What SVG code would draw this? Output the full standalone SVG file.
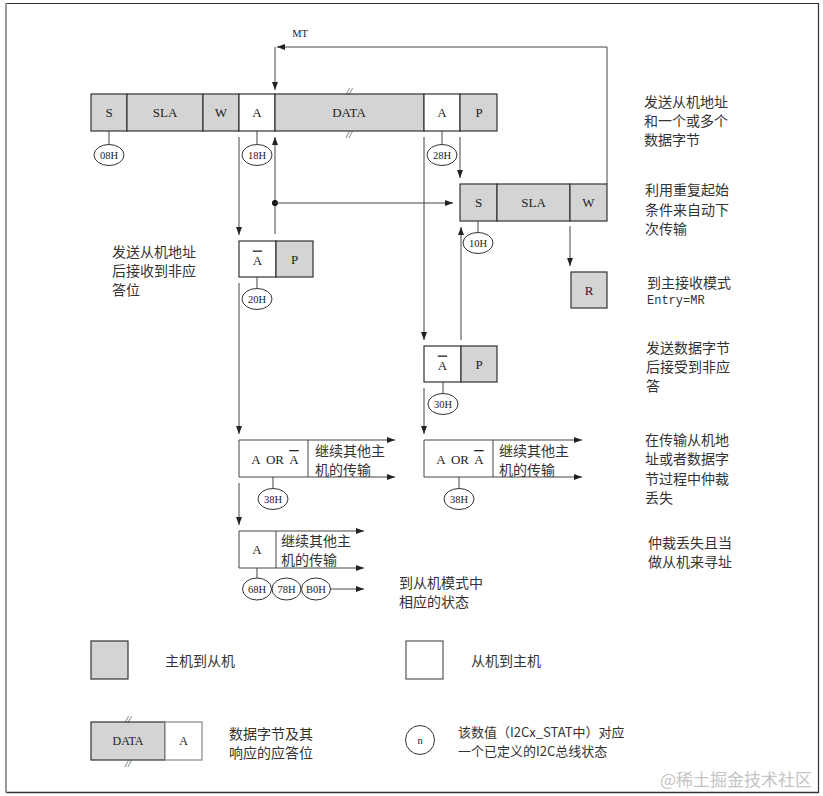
<svg xmlns="http://www.w3.org/2000/svg" width="823" height="796" viewBox="0 0 823 796">
<defs>
<marker id="ah" markerWidth="8" markerHeight="6" refX="8" refY="3" orient="auto" markerUnits="userSpaceOnUse"><path d="M0,0 L8,3 L0,6 z" fill="#222"/></marker>
</defs>
<style>
.g{fill:#d4d4d4;stroke:#333;stroke-width:1.2}
.w{fill:#fff;stroke:#333;stroke-width:1.2}
.t{font-family:"Liberation Serif",serif;font-size:13px;fill:#222;text-anchor:middle;dominant-baseline:central}
.s{font-family:"Liberation Serif",serif;font-size:10.5px;fill:#222;text-anchor:middle;dominant-baseline:central}
.sl{font-family:"Liberation Serif",serif;font-size:11px;fill:#333;text-anchor:middle;dominant-baseline:central;font-style:italic}
.cn{font-family:"Noto Sans CJK SC",sans-serif;font-size:14px;fill:#333;dominant-baseline:central}
.ov{text-decoration:overline}
.st{fill:#fff;stroke:#333;stroke-width:1}
.ln{stroke:#444;stroke-width:1;fill:none}
.ar{stroke:#444;stroke-width:1;fill:none;marker-end:url(#ah)}
</style>
<rect width="823" height="796" fill="#fff"/>
<g id="border">
<line x1="6" y1="3.5" x2="818" y2="3.5" stroke="#333" stroke-width="1.2"/>
<line x1="818.5" y1="3" x2="818.5" y2="793" stroke="#333" stroke-width="1.2"/>
<line x1="6" y1="792.5" x2="818" y2="792.5" stroke="#333" stroke-width="1.5"/>
<line x1="6" y1="3" x2="6" y2="793" stroke="#999" stroke-width="2"/>
</g>

<g id="connectors">
<path class="ar" d="M607,184 V47 H277"/>
<line class="ar" x1="275" y1="47" x2="275" y2="90"/>
<line class="ar" x1="239" y1="137" x2="239" y2="235"/>
<line class="ar" x1="275" y1="234" x2="275" y2="137"/>
<circle cx="275" cy="203" r="3" fill="#111"/>
<line class="ar" x1="275" y1="203" x2="453" y2="203"/>
<line class="ar" x1="460" y1="137" x2="460" y2="178"/>
<line class="ar" x1="424" y1="137" x2="424" y2="340"/>
<line class="ar" x1="461" y1="340" x2="461" y2="227"/>
<line class="ar" x1="570" y1="226" x2="570" y2="266"/>
<line class="ar" x1="239" y1="283" x2="239" y2="434"/>
<line class="ar" x1="424" y1="388" x2="424" y2="434"/>
<line class="ar" x1="239" y1="483" x2="239" y2="525"/>
<line class="ar" x1="331" y1="589" x2="364" y2="589"/>
</g>

<g id="label-mt"><text class="s" x="300" y="33">MT</text></g>

<g id="frame-top">
<rect class="g" x="91" y="94" width="36" height="37"/>
<rect class="g" x="127" y="94" width="76" height="37"/>
<rect class="g" x="203" y="94" width="36" height="37"/>
<rect class="w" x="239" y="94" width="36" height="37"/>
<rect class="g" x="275" y="94" width="149" height="37"/>
<rect class="w" x="424" y="94" width="36" height="37"/>
<rect class="g" x="460" y="94" width="37" height="37"/>
<text class="t" x="109" y="112.5">S</text>
<text class="t" x="165" y="112.5">SLA</text>
<text class="t" x="221" y="112.5">W</text>
<text class="t" x="257" y="112.5">A</text>
<text class="t" x="349" y="112.5">DATA</text>
<text class="t" x="442" y="112.5">A</text>
<text class="t" x="479" y="112.5">P</text>
<text class="sl" x="349" y="91">//</text>
<text class="sl" x="349" y="134">//</text>
</g>
<g id="state-08h"><line class="ln" x1="109" y1="131" x2="109" y2="144.5"/><ellipse class="st" cx="109" cy="155" rx="15" ry="10.5"/><text class="s" x="109" y="155">08H</text></g>
<g id="state-18h"><line class="ln" x1="257" y1="131" x2="257" y2="144.5"/><ellipse class="st" cx="257" cy="155" rx="15" ry="10.5"/><text class="s" x="257" y="155">18H</text></g>
<g id="state-28h"><line class="ln" x1="442" y1="131" x2="442" y2="144.5"/><ellipse class="st" cx="442" cy="155" rx="15" ry="10.5"/><text class="s" x="442" y="155">28H</text></g>

<g id="frame-restart">
<rect class="g" x="460" y="184" width="37" height="37"/>
<rect class="g" x="497" y="184" width="73" height="37"/>
<rect class="g" x="570" y="184" width="37" height="37"/>
<text class="t" x="478.5" y="202.5">S</text>
<text class="t" x="533.5" y="202.5">SLA</text>
<text class="t" x="588.5" y="202.5">W</text>
</g>
<g id="state-10h"><line class="ln" x1="478" y1="221" x2="478" y2="232.5"/><ellipse class="st" cx="478" cy="243" rx="15" ry="10.5"/><text class="s" x="478" y="243">10H</text></g>

<g id="frame-nack-addr">
<rect class="w" x="239" y="241" width="37" height="36"/>
<rect class="g" x="276" y="241" width="37" height="36"/>
<text class="t ov" x="257.5" y="260">A</text>
<text class="t" x="294.5" y="259">P</text>
</g>
<g id="state-20h"><line class="ln" x1="257" y1="277" x2="257" y2="288.5"/><ellipse class="st" cx="257" cy="299" rx="15" ry="10.5"/><text class="s" x="257" y="299">20H</text></g>

<g id="frame-r">
<rect class="g" x="571" y="272" width="36" height="36"/>
<text class="t" x="589" y="290">R</text>
</g>

<g id="frame-nack-data">
<rect class="w" x="424" y="346" width="37" height="36"/>
<rect class="g" x="461" y="346" width="36" height="36"/>
<text class="t ov" x="442.5" y="365">A</text>
<text class="t" x="479" y="364">P</text>
</g>
<g id="state-30h"><line class="ln" x1="443" y1="382" x2="443" y2="393.5"/><ellipse class="st" cx="443" cy="404" rx="15" ry="10.5"/><text class="s" x="443" y="404">30H</text></g>

<g id="frame-lost-1">
<line class="ln" x1="239" y1="440" x2="239" y2="477"/>
<line class="ln" x1="308" y1="440" x2="308" y2="477"/>
<line class="ar" x1="239" y1="440" x2="395" y2="440"/>
<line class="ar" x1="239" y1="477" x2="395" y2="477"/>
<text class="t" x="256" y="459">A</text>
<text class="t" x="275" y="459">OR</text>
<text class="t ov" x="294" y="459.5">A</text>
<text class="cn" x="315" y="449.5">继续其他主</text>
<text class="cn" x="315" y="468.5">机的传输</text>
</g>
<g id="state-38h-1"><line class="ln" x1="273" y1="477" x2="273" y2="488.5"/><ellipse class="st" cx="273" cy="499" rx="15" ry="10.5"/><text class="s" x="273" y="499">38H</text></g>

<g id="frame-lost-2">
<line class="ln" x1="424" y1="440" x2="424" y2="477"/>
<line class="ln" x1="493" y1="440" x2="493" y2="477"/>
<line class="ar" x1="424" y1="440" x2="582" y2="440"/>
<line class="ar" x1="424" y1="477" x2="582" y2="477"/>
<text class="t" x="441" y="459">A</text>
<text class="t" x="460" y="459">OR</text>
<text class="t ov" x="479" y="459.5">A</text>
<text class="cn" x="499" y="449.5">继续其他主</text>
<text class="cn" x="499" y="468.5">机的传输</text>
</g>
<g id="state-38h-2"><line class="ln" x1="459" y1="477" x2="459" y2="488.5"/><ellipse class="st" cx="459" cy="499" rx="15" ry="10.5"/><text class="s" x="459" y="499">38H</text></g>

<g id="frame-slave">
<line class="ln" x1="239" y1="531" x2="239" y2="568"/>
<line class="ln" x1="276" y1="531" x2="276" y2="568"/>
<line class="ar" x1="239" y1="531" x2="364" y2="531"/>
<line class="ar" x1="239" y1="568" x2="364" y2="568"/>
<text class="t" x="257" y="549.5">A</text>
<text class="cn" x="281" y="540">继续其他主</text>
<text class="cn" x="281" y="559">机的传输</text>
</g>
<g id="state-68h-78h-b0h">
<line class="ln" x1="257" y1="568" x2="257" y2="578"/>
<ellipse class="st" cx="257" cy="589" rx="14.5" ry="11"/><text class="s" x="257" y="589">68H</text>
<ellipse class="st" cx="286.5" cy="589" rx="14.5" ry="11"/><text class="s" x="286.5" y="589">78H</text>
<ellipse class="st" cx="316" cy="589" rx="14.5" ry="11"/><text class="s" x="316" y="589">B0H</text>
</g>
<g id="label-slave-mode">
<text class="cn" x="399" y="582">到从机模式中</text>
<text class="cn" x="399" y="601">相应的状态</text>
</g>

<g id="label-left">
<text class="cn" x="112" y="251">发送从机地址</text>
<text class="cn" x="112" y="270">后接收到非应</text>
<text class="cn" x="112" y="289">答位</text>
</g>

<g id="notes-right">
<text class="cn" x="644" y="101">发送从机地址</text>
<text class="cn" x="644" y="120">和一个或多个</text>
<text class="cn" x="644" y="139">数据字节</text>
<text class="cn" x="645" y="189">利用重复起始</text>
<text class="cn" x="645" y="208.5">条件来自动下</text>
<text class="cn" x="645" y="228">次传输</text>
<text class="cn" x="647" y="282">到主接收模式</text>
<text x="647" y="301" style="font-family:'Liberation Mono',monospace;font-size:12px;fill:#333;dominant-baseline:central">Entry=MR</text>
<text class="cn" x="646" y="347">发送数据字节</text>
<text class="cn" x="646" y="366">后接受到非应</text>
<text class="cn" x="646" y="385">答</text>
<text class="cn" x="645" y="439">在传输从机地</text>
<text class="cn" x="645" y="458">址或者数据字</text>
<text class="cn" x="645" y="477.5">节过程中仲裁</text>
<text class="cn" x="645" y="496.5">丢失</text>
<text class="cn" x="648" y="542">仲裁丢失且当</text>
<text class="cn" x="648" y="561">做从机来寻址</text>
</g>

<g id="legend-master">
<rect class="g" x="91" y="641" width="37" height="38"/>
<text class="cn" x="165" y="660">主机到从机</text>
</g>
<g id="legend-slave">
<rect class="w" x="406" y="641" width="37" height="38" style="stroke:#555"/>
<text class="cn" x="471" y="660">从机到主机</text>
</g>
<g id="legend-data">
<rect class="g" x="91" y="722" width="74" height="38"/>
<rect class="w" x="165" y="722" width="37" height="38" style="stroke:#888"/>
<text class="t" x="128" y="741" style="font-size:12px">DATA</text>
<text class="t" x="183.5" y="741" style="font-size:12px">A</text>
<text class="sl" x="128" y="719">//</text>
<text class="sl" x="128" y="763">//</text>
<text class="cn" x="229" y="733">数据字节及其</text>
<text class="cn" x="229" y="752">响应的应答位</text>
</g>
<g id="legend-state">
<circle class="st" cx="420" cy="740" r="14.5"/>
<text class="s" x="420" y="740">n</text>
<text class="cn" x="458" y="731" style="font-size:13px">该数值（I2Cx_STAT中）对应</text>
<text class="cn" x="458" y="750" style="font-size:13px">一个已定义的I2C总线状态</text>
</g>
<g id="watermark">
<text x="660" y="778" style="font-family:'Noto Sans CJK SC',sans-serif;font-size:17px;fill:#c4c4c4;dominant-baseline:central">@稀土掘金技术社区</text>
</g>
</svg>
